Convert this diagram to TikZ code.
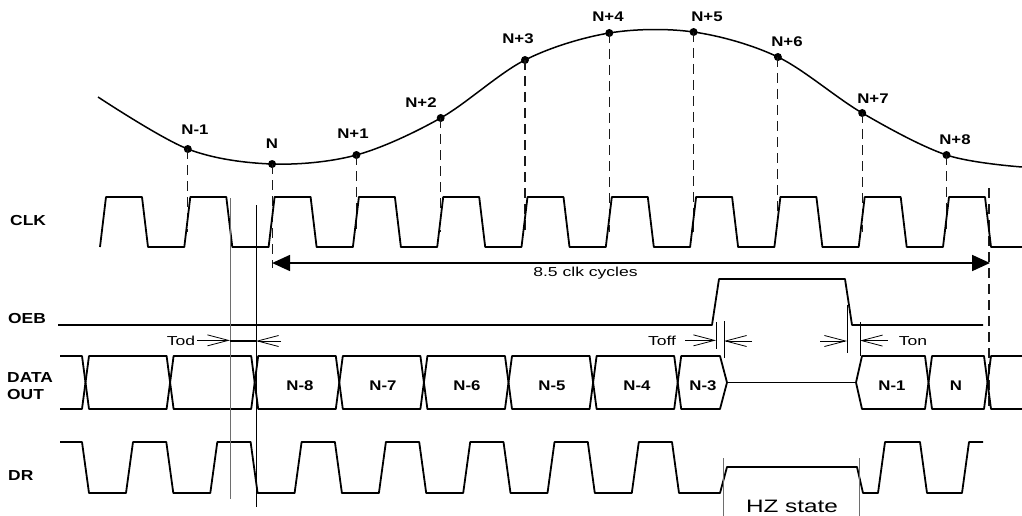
\documentclass[tikz,border=0pt]{standalone}
\usepackage{fontspec}
\setmainfont{Liberation Sans}
\newfontfamily\lblfont[FakeStretch=1.2]{Liberation Sans}
\newfontfamily\txtfont[FakeStretch=1.35]{Liberation Sans}
\usetikzlibrary{arrows.meta}
\definecolor{Ink}{HTML}{000000}
\definecolor{Guide}{HTML}{1A1A1A}
\definecolor{Mark}{HTML}{6E6E6E}

\begin{document}
\begin{tikzpicture}[x=1pt,y=-1pt,
  sig/.style={Ink,line width=1.8pt,line join=round},
  guide/.style={Guide,line width=1.1pt,dash pattern=on 10pt off 6pt},
  vline/.style={Mark,line width=1pt},
  tick/.style={Ink,line width=0.8pt},
  barb/.style={Ink,line width=0.8pt,-{Straight Barb[length=21pt,width=11pt]}},
  dot/.style={circle,fill=Ink,inner sep=0pt,minimum size=8pt},
  sname/.style={font=\lblfont\fontsize{14.5}{16}\selectfont\bfseries,anchor=base west,inner sep=0pt},
  nlab/.style={font=\lblfont\fontsize{14}{16}\selectfont\bfseries,anchor=base,inner sep=0pt},
  tlab/.style={font=\txtfont\fontsize{13}{15}\selectfont,anchor=base,inner sep=0pt}]
  \useasboundingbox (0,0) rectangle (1022,516);
  \def\dt{356} \def\db{409} \def\dm{382.5}

  \foreach \i/\x/\y in {1/187.8/149,2/272.1/164,3/356.4/155,4/440.7/118,5/525/60,
    6/609.3/33,7/693.6/32,8/777.9/57,9/862.2/113,10/946.5/155}
    \node[dot] (d\i) at (\x,\y) {};
  \draw[Ink,line width=1.5pt] plot[smooth,tension=0.55] coordinates {(98,97) (d1.center)
    (d2.center) (d3.center) (d4.center) (d5.center) (d6.center) (d7.center)
    (d8.center) (d9.center) (d10.center) (1022,167)};
  \foreach \i/\lab/\lx/\ly in {1/N-1/195/135,2/N/272/149,3/N+1/353/139,4/N+2/421/108,
    5/N+3/518/44,6/N+4/608/22,7/N+5/707/22,8/N+6/787/47,9/N+7/873/104,10/N+8/955/144}
    \node[nlab] (l\i) at (\lx,\ly) {\lab};

  \coordinate (clkmid) at (0,232);
  \coordinate (nfoot) at (272.1,268);
  \foreach \i in {1,3,4,...,10}
    \draw[guide] (d\i.center) -- (d\i |- clkmid);
  \draw[guide] (d2.center) -- (nfoot);
  \coordinate (endtop) at (989,188);
  \coordinate (endbot) at (989,410);
  \draw[guide] (endtop) -- (endbot);

  \node[sname] (clk) at (10,225) {CLK};
  \node[sname] (oeb) at (8,323) {OEB};
  \node[sname] (data) at (7,382) {DATA};
  \node[sname] (out) at (7,399) {OUT};
  \node[sname] (dr) at (8,480) {DR};

  \draw[sig] (100,247) \foreach \k in {0,...,9} { -- ++(6,-50) -- ++(36,0) -- ++(6,50) -- ++(36.3,0) }
    -- ++(6,-50) -- ++(36,0) -- ++(6,50) -- (1022,247);

  \coordinate (cycL) at (272.1,263);
  \coordinate (cycR) at (990,263);
  \draw[Ink,line width=1.8pt,{Triangle[length=18pt,width=16pt]}-{Triangle[length=18pt,width=16pt]}] (cycL) -- (cycR);
  \node[tlab] (cyc) at (585.5,276) {8.5 clk cycles};

  \draw[sig] (58,325) -- (712,325) -- (719,279) -- (845,279) -- (852,325) -- (983,325);

  \draw[sig] (60,\dt) -- (82,\dt) -- (85.5,\dm) -- (82,\db) -- (60,\db);
  \foreach \a/\aa/\b/\bb in {85.5/89/166.6/170.1,170.1/173.6/251.2/254.7,254.7/258.2/335.8/339.3,
    339.3/342.8/420.4/423.9,423.9/427.4/505/508.5,508.5/512/589.6/593.1,593.1/596.6/674.2/677.7,
    677.7/681.2/720/727,856/862/925/928.5,928.5/932/984/987.5}
    \draw[sig] (\a,\dm) -- (\aa,\dt) -- (\b,\dt) -- (\bb,\dm) -- (\b,\db) -- (\aa,\db) -- cycle;
  \draw[sig] (727,\dm) -- (856,\dm);
  \draw[sig] (1022,\dt) -- (991,\dt) -- (987.5,\dm) -- (991,\db) -- (1022,\db);
  \foreach \c/\lab/\lx in {1/N-8/300,2/N-7/383,3/N-6/467,4/N-5/552,5/N-4/637,6/N-3/703,7/N-1/892,8/N/956}
    \node[nlab] (v\c) at (\lx,390) {\lab};

  \draw[sig] (60,442) \foreach \k in {0,...,6} { -- ({82+84.3*\k},442) -- ++(7,51) -- ++(37,0) -- ++(7,-51) }
    -- (672,442) -- (679,493) -- (720,493) -- (727,467) -- (857,467) -- (863,493) -- (878,493)
    -- (885,442) -- (920,442) -- (927,493) -- (962,493) -- (969,442) -- (983,442);

  \coordinate (todA1) at (230,198);
  \coordinate (todA2) at (230,499);
  \coordinate (todB1) at (256,205);
  \coordinate (todB2) at (256,507);
  \draw[vline] (todA1) -- (todA2);
  \draw[tick] (todB1) -- (todB2);
  \node[tlab] (tod) at (181,345) {Tod};
  \coordinate (todL) at (230,341);
  \coordinate (todR) at (256,341);
  \coordinate (todT) at (281,341);
  \draw[Ink,line width=2pt] (todL) -- (todR);
  \draw[barb] ([xshift=2pt]tod.east) -- (tod.east -| todL);
  \draw[barb] (todT) -- (todR);

  \coordinate (off1t) at (716,322);
  \coordinate (off1b) at (716,349);
  \coordinate (off2t) at (724,321);
  \coordinate (off2b) at (724,358);
  \coordinate (on1t) at (847,305);
  \coordinate (on1b) at (847,353);
  \coordinate (on2t) at (860,322);
  \coordinate (on2b) at (860,356);
  \foreach \p in {off1,off2,on1,on2}
    \draw[tick] (\p t) -- (\p b);
  \node[tlab] (toff) at (662,345) {Toff};
  \node[tlab] (ton) at (913,345) {Ton};
  \coordinate (offE) at (752,341);
  \coordinate (onS) at (820,341);
  \draw[barb] ([xshift=9pt]toff.east) -- (toff.east -| off1t);
  \draw[barb] (offE) -- (offE -| off2t);
  \draw[barb] (onS) -- (onS -| on1t);
  \draw[barb] ([xshift=-11pt]ton.west) -- (ton.west -| on2t);

  \coordinate (hz1t) at (723,458);
  \coordinate (hz1b) at (723,516);
  \coordinate (hz2t) at (859,458);
  \coordinate (hz2b) at (859,516);
  \draw[vline] (hz1t) -- (hz1b);
  \draw[vline] (hz2t) -- (hz2b);
  \node[font=\txtfont\fontsize{18}{20}\selectfont,anchor=base,inner sep=0pt] (hz) at (792,512) {HZ state};
\end{tikzpicture}
\end{document}
